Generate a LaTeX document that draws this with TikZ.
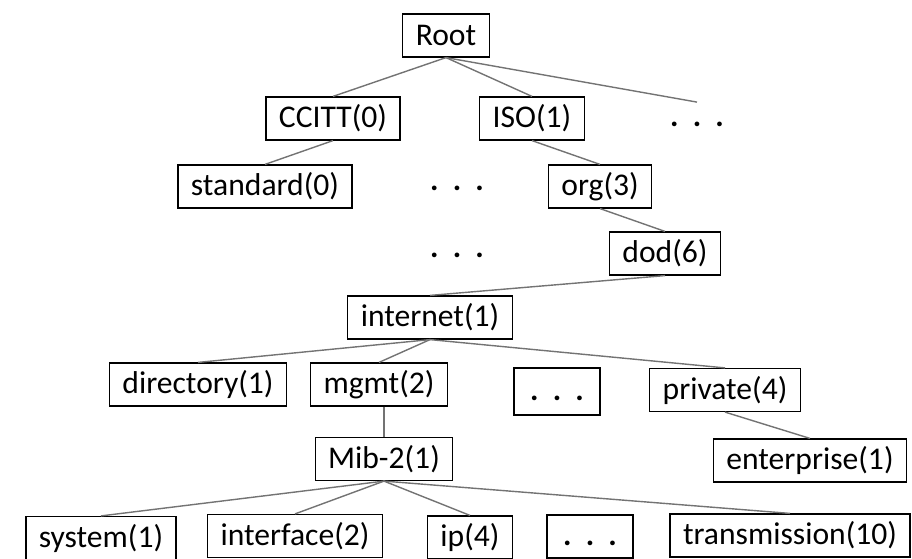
\documentclass[tikz,border=0pt]{standalone}
\usepackage{fontspec}
\setmainfont{Carlito}

\begin{document}
\begin{tikzpicture}[x=0.5pt, y=-0.5pt,
    font=\fontsize{15.8}{19}\selectfont,
    box/.style={draw, line width=0.6pt, minimum height=21.5pt, inner xsep=6.5pt, inner ysep=0pt},
    dots/.style={minimum height=21.5pt, inner sep=0pt, font=\fontsize{15.8}{19}\selectfont\bfseries},
    link/.style={draw=black!55, line width=0.7pt}]
    \useasboundingbox (0, 0) rectangle (912, 558);
    % top levels
    \node[box] (root) at (446, 35.5) {Root};
    \node[box] (ccitt) at (333, 118.5) {CCITT(0)};
    \node[box] (iso) at (532, 118.5) {ISO(1)};
    \node[dots] (dotsA) at (697, 124) {.~~.~~.};
    \node[box] (standard) at (265, 186.5) {standard(0)};
    \node[dots] (dotsB) at (457, 188) {.~~.~~.};
    \node[box] (org) at (600, 186.5) {org(3)};
    \node[dots] (dotsC) at (457, 255) {.~~.~~.};
    \node[box] (dod) at (665, 253.5) {dod(6)};
    \node[box] (internet) at (430, 317.5) {internet(1)};
    % internet subtree
    \node[box] (directory) at (198, 384.5) {directory(1)};
    \node[box] (mgmt) at (379, 384.5) {mgmt(2)};
    \node[box, minimum width=43pt, minimum height=23.5pt] (dotsD) at (557, 391.5) {\bfseries\vphantom{(}.~~.~~.};
    \node[box] (private) at (725, 390) {private(4)};
    \node[box] (mib) at (384, 459) {Mib-2(1)};
    \node[box] (enterprise) at (810, 460.5) {enterprise(1)};
    % mib-2 subtree
    \node[box] (system) at (101, 538) {system(1)};
    \node[box] (interface) at (295, 536) {interface(2)};
    \node[box] (ip) at (470, 537.5) {ip(4)};
    \node[box, minimum width=43pt] (dotsE) at (590, 536.5) {\bfseries\vphantom{(}.~~.~~.};
    \node[box] (transmission) at (790, 535.5) {transmission(10)};

    \draw[link] (root.south) -- (ccitt.north);
    \draw[link] (root.south) -- (iso.north);
    \draw[link] (root.south) -- (dotsA.north);
    \draw[link] (ccitt.south) -- (standard.north);
    \draw[link] (iso.south) -- (org.north);
    \draw[link] (org.south) -- (dod.north);
    \draw[link] (dod.south) -- (internet.north);
    \draw[link] (internet.south) -- (directory.north);
    \draw[link] (internet.south) -- (mgmt.north);
    \draw[link] (internet.south) -- (private.north);
    \draw[link] (mib.north |- mgmt.south) -- (mib.north);
    \draw[link] (private.south) -- (enterprise.north);
    \draw[link] (mib.south) -- (system.north);
    \draw[link] (mib.south) -- (interface.north);
    \draw[link] (mib.south) -- (ip.north);
    \draw[link] (mib.south) -- (transmission.north);
\end{tikzpicture}
\end{document}
